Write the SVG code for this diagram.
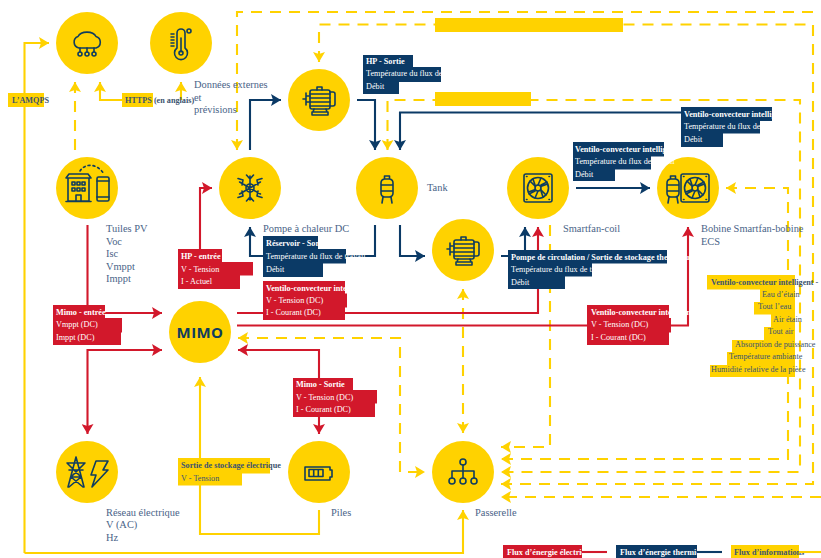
<svg xmlns="http://www.w3.org/2000/svg" width="821" height="558" viewBox="0 0 821 558">
<style>
text{font-family:"Liberation Serif","Times New Roman",serif}
.bg{fill:#fff}
.c{fill:#ffd200}
.ic{fill:none;stroke:#0f3d5e;stroke-width:1.6;stroke-linejoin:round;stroke-linecap:round}
.l{fill:none;stroke-width:2.100}
.r{stroke:#d2182b}.n{stroke:#0b3a66}.y{stroke:#ffd200}
.d{stroke-dasharray:11 8}
.nl{font-size:10.400px;fill:#4a6488}
.t{font-size:8.200px}
.b{font-weight:bold}
.w{fill:#fff}
.k{fill:#3b5470}
.br{fill:#d2182b}.bn{fill:#0b3a66}.by{fill:#ffd200}
</style>
<defs>
<marker id="ar" markerUnits="userSpaceOnUse" markerWidth="11" markerHeight="12" refX="10" refY="6" orient="auto-start-reverse"><path d="M0 0L10 6L0 12L2 6z" fill="#d2182b"/></marker>
<marker id="an" markerUnits="userSpaceOnUse" markerWidth="11" markerHeight="12" refX="10" refY="6" orient="auto-start-reverse"><path d="M0 0L10 6L0 12L2 6z" fill="#0b3a66"/></marker>
<marker id="ay" markerUnits="userSpaceOnUse" markerWidth="11" markerHeight="12" refX="10" refY="6" orient="auto-start-reverse"><path d="M0 0L10 6L0 12L2 6z" fill="#ffd200"/></marker>
<g id="motor" class="ic">
<path d="M-16 -1h3M-13 -7v12M-13 -4h4M-13 2h4"/>
<rect x="-9" y="-10" width="20" height="19" rx="2"/>
<path d="M-9 -6h20M-9 -2h20M-9 2h20M-9 6h20M11 -8h3a2 2 0 0 1 2 2v10a2 2 0 0 1 -2 2h-3M-2 -10v-3h5v3M-5 9l-1 3h14l-1 -3M-7 15h16v-3h-16z"/>
</g>
<g id="fan" class="ic">
<rect x="-14" y="-14" width="28" height="28" rx="2"/>
<circle r="10.500"/><circle r="3"/>
<path d="M0 -3L3 -10M2.600 -1.500L9.600 -4M2.600 1.500L8 7M0 3L-3 10M-2.600 1.500L-9.600 4M-2.600 -1.500L-8 -7M3 -3L9 -6M3 3L5 9M-3 3L-9 6M-3 -3L-5 -9"/>
<path d="M-11.500 -11.500h.5M11 -11.500h.5M-11.500 11.500h.5M11 11.500h.5"/>
</g>
<g id="tank" class="ic">
<path d="M-2.500 -12h5v3h-5zM-2.500 -9c-3 .5 -3.500 2 -3.500 4v10c0 2 .5 3.500 3.500 4h5c3 -.5 3.500 -2 3.500 -4v-10c0 -2 -.5 -3.500 -3.500 -4zM-6 -3h12M-6 3h12M-4 9l-1 6M4 9l1 6"/>
</g>
</defs>
<rect class="bg" width="821" height="558"/>
<g id="connectors">
<path class="l y d" d="M237 150V12H821" marker-start="url(#ay)"/>
<path class="l y d" d="M319 62V24.500H813V484H501" marker-start="url(#ay)" marker-end="url(#ay)"/>
<path class="l y d" d="M387.500 150V100H800V472H501" marker-start="url(#ay)" marker-end="url(#ay)"/>
<path class="l y d" d="M821 497H501" marker-end="url(#ay)"/>
<path class="l y d" d="M726 188H788V459H501" marker-start="url(#ay)" marker-end="url(#ay)"/>
<path class="l y d" d="M550 225V447H501" marker-end="url(#ay)"/>
<path class="l y d" d="M238 338H400V472H425" marker-start="url(#ay)" marker-end="url(#ay)"/>
<path class="l y d" d="M463 289V433" marker-start="url(#ay)" marker-end="url(#ay)"/>
<path class="l y d" d="M75 150V82" marker-end="url(#ay)"/>
<path class="l y" d="M122 100H100V82" marker-end="url(#ay)"/>
<path class="l y" d="M181 100V82" marker-end="url(#ay)"/>
<path class="l y" d="M24.500 553V43H49" marker-end="url(#ay)"/>
<path class="l y" d="M24.500 553H463V510" marker-end="url(#ay)"/>
<path class="l y" d="M319 510V534H200V377" marker-end="url(#ay)"/>
<path class="l r" d="M87.500 225V313H162" marker-end="url(#ar)"/>
<path class="l r" d="M162 350H87.500V434" marker-start="url(#ar)" marker-end="url(#ar)"/>
<path class="l r" d="M238 350H319V434" marker-start="url(#ar)" marker-end="url(#ar)"/>
<path class="l r" d="M200 250V188H212" marker-end="url(#ar)"/>
<path class="l r" d="M237 313H538V227" marker-end="url(#ar)"/>
<path class="l r" d="M237 325.500H688V227" marker-end="url(#ar)"/>
<path class="l n" d="M250 150V100H281" marker-end="url(#an)"/>
<path class="l n" d="M375 225V256H250V227" marker-end="url(#an)"/>
<path class="l n" d="M357 100H375V150" marker-end="url(#an)"/>
<path class="l n" d="M400 225V256H425" marker-end="url(#an)"/>
<path class="l n" d="M501 256H525V227" marker-end="url(#an)"/>
<path class="l n" d="M688 140V112.500H400V150" marker-end="url(#an)"/>
<path class="l n" d="M576 188H650" marker-end="url(#an)"/>
</g>
<g id="bars">
<rect class="by" x="435" y="18" width="188" height="14"/>
<rect class="by" x="435" y="92" width="96" height="14"/>
</g>
<g id="node-cloud"><circle class="c" cx="87" cy="43" r="31"/>
<g class="ic"><path d="M79 48A6 6 0 0 1 78 36.500A9.500 6.500 0 0 1 96 36.500A6 6 0 0 1 96 48Z"/><path d="M80 48v4M87 48v4M94 48v4"/><circle cx="80" cy="54" r="2"/><circle cx="87" cy="54" r="2"/><circle cx="94" cy="54" r="2"/></g></g>
<g id="node-thermometer"><circle class="c" cx="181" cy="43" r="31"/>
<g class="ic"><path d="M177 48V33a4 4 0 0 1 8 0V48a6.500 6.500 0 1 1 -8 0z"/><path d="M181 38V52"/><circle cx="181" cy="53" r="2"/><circle cx="189" cy="31" r="2"/><path d="M171 34h3M171 37h3M171 40h3M171 43h3M171 46h3"/></g></g>
<g id="node-building"><circle class="c" cx="87" cy="188" r="31"/>
<g class="ic"><path d="M66 178l3 -4h19l3 4zM68 178V201H89V178M66 201.500H91"/><path d="M72 182h3v3h-3zM77 182h3v3h-3zM82 182h3v3h-3zM72 188h3v3h-3zM77 188h3v3h-3zM82 188h3v3h-3zM76 201v-6h5v6"/><rect x="97" y="177" width="12" height="24" rx="1.500"/><path d="M97 181h12M97 197h12"/><path d="M80 171C85 163 97 163 104 174" stroke-dasharray="2 3"/></g></g>
<g id="node-heatpump"><circle class="c" cx="250" cy="188" r="31"/>
<g class="ic"><circle cx="250" cy="188" r="4"/><path d="M250 176V200M239.600 182L260.400 194M239.600 194L260.400 182M246.500 175l3.500 4 3.500 -4M246.500 201l3.500 -4 3.500 4M238 178.500l5 1.500 -1 5M262 197.500l-5 -1.500 1 -5M238 197.500l5 -1.500 -1 -5M262 178.500l-5 1.500 1 5"/></g>
<text class="nl" x="263" y="232">Pompe à chaleur DC</text></g>
<g id="node-motor1"><circle class="c" cx="319" cy="100" r="31"/><use href="#motor" x="319" y="100"/></g>
<g id="node-tank"><circle class="c" cx="387" cy="188" r="31"/><use href="#tank" x="387" y="188"/><text class="nl" x="427" y="191">Tank</text></g>
<g id="node-motor2"><circle class="c" cx="463" cy="250" r="31"/><use href="#motor" x="463" y="250"/></g>
<g id="node-smartfan"><circle class="c" cx="538" cy="188" r="31"/><use href="#fan" x="538" y="188"/><text class="nl" x="563" y="232">Smartfan-coil</text></g>
<g id="node-bobine"><circle class="c" cx="688" cy="188" r="31"/><use href="#tank" x="673" y="188"/><use href="#fan" x="695" y="188"/><text class="nl" x="701" y="232">Bobine Smartfan-bobine</text><text class="nl" x="701" y="245">ECS</text></g>
<g id="node-mimo"><circle class="c" cx="200" cy="332" r="31"/><text x="200" y="338" text-anchor="middle" style="font-family:'Open Sans',sans-serif;font-weight:700;font-size:15px;letter-spacing:.4px;fill:#0f3d5e">MIMO</text></g>
<g id="node-grid"><circle class="c" cx="87" cy="472" r="31"/>
<g class="ic"><path d="M76 457L68 487M76 457L84 487M67 463H85M69 470H83M71 477H81M67 463L81 477M85 463L71 477M69 487L81 477M83 487L71 477"/><path d="M96 461h12l-5 9h5l-16 17 4 -12h-5z"/></g></g>
<g id="node-battery"><circle class="c" cx="319" cy="472" r="31"/>
<g class="ic"><path d="M305 467h25v3h2v7h-2v3h-25z"/><path d="M309 469.500h14v7h-14zM313.700 469.500v7M318.300 469.500v7"/></g><text class="nl" x="331" y="516">Piles</text></g>
<g id="node-gateway"><circle class="c" cx="463" cy="472" r="31"/>
<g class="ic"><circle cx="463" cy="462" r="3"/><circle cx="452" cy="481" r="3"/><circle cx="463" cy="481" r="3"/><circle cx="474" cy="481" r="3"/><path d="M463 465V478M452 478V471H474V478"/></g><text class="nl" x="475" y="516">Passerelle</text></g>
<g id="label-external"><text class="nl" x="194" y="88">Données externes</text><text class="nl" x="194" y="101">et</text><text class="nl" x="194" y="113">prévisions</text></g>
<g id="label-pv"><text class="nl" x="106" y="232">Tuiles PV</text><text class="nl" x="106" y="245">Voc</text><text class="nl" x="106" y="257">Isc</text><text class="nl" x="106" y="270">Vmppt</text><text class="nl" x="106" y="282">Imppt</text></g>
<g id="label-grid"><text class="nl" x="106" y="516">Réseau électrique</text><text class="nl" x="106" y="528">V (AC)</text><text class="nl" x="106" y="541">Hz</text></g>
<g id="box-amqps"><rect class="by" x="8" y="93" width="36" height="14"/><text class="t b k" x="12" y="102.500">L’AMQPS</text></g>
<g id="box-https"><rect class="by" x="122" y="93" width="31" height="14"/><text class="t b k" x="125" y="102.500">HTTPS (en anglais)</text></g>
<g id="box-hp-out"><rect class="bn" x="363" y="55" width="50" height="12.500"/><rect class="bn" x="363" y="67" width="78" height="15"/><rect class="bn" x="363" y="81.500" width="36" height="12.500"/>
<text class="t b w" x="366" y="63.500">HP - Sortie</text><text class="t w" x="366" y="76">Température du flux de travail</text><text class="t w" x="366" y="88.500">Débit</text></g>
<g id="box-hp-in"><rect class="br" x="178" y="249" width="44" height="13.500"/><rect class="br" x="178" y="262" width="75" height="13.500"/><rect class="br" x="178" y="275" width="62" height="14"/>
<text class="t b w" x="181" y="259">HP - entrée</text><text class="t w" x="181" y="271.500">V - Tension</text><text class="t w" x="181" y="284">I - Actuel</text></g>
<g id="box-tank-out"><rect class="bn" x="263" y="236" width="55" height="13.500"/><rect class="bn" x="263" y="249" width="83" height="14.500"/><rect class="bn" x="263" y="263" width="60" height="14"/>
<text class="t b w" x="266" y="246">Réservoir - Sortie</text><text class="t w" x="266" y="259">Température du flux de travail</text><text class="t w" x="266" y="272">Débit</text></g>
<g id="box-fan-in"><rect class="br" x="263" y="281" width="82" height="13"/><rect class="br" x="263" y="293.500" width="84" height="14"/><rect class="br" x="263" y="307" width="82" height="13"/>
<text class="t b w" x="266" y="290.500">Ventilo-convecteur intelligent - entrée</text><text class="t w" x="266" y="302.500">V - Tension (DC)</text><text class="t w" x="266" y="315">I - Courant (DC)</text></g>
<g id="box-mimo-in"><rect class="br" x="53" y="305" width="52" height="13.500"/><rect class="br" x="53" y="318" width="69" height="14.500"/><rect class="br" x="53" y="332" width="68" height="13"/>
<text class="t b w" x="56" y="314.500">Mimo - entrée</text><text class="t w" x="56" y="327">Vmppt (DC)</text><text class="t w" x="56" y="340">Imppt (DC)</text></g>
<g id="box-mimo-out"><rect class="br" x="293" y="378" width="60" height="12.500"/><rect class="br" x="293" y="390" width="84" height="13.500"/><rect class="br" x="293" y="403" width="82" height="14"/>
<text class="t b w" x="296" y="387">Mimo - Sortie</text><text class="t w" x="296" y="399.500">V - Tension (DC)</text><text class="t w" x="296" y="412">I - Courant (DC)</text></g>
<g id="box-storage"><rect class="by" x="178" y="458" width="92" height="15.500"/><rect class="by" x="178" y="473" width="64" height="12.500"/>
<text class="t b k" x="181" y="468">Sortie de stockage électrique</text><text class="t k" x="181" y="480.500">V - Tension</text></g>
<g id="box-fan-in2"><rect class="br" x="587" y="305" width="82" height="13.500"/><rect class="br" x="587" y="318" width="84" height="14.500"/><rect class="br" x="587" y="332" width="82" height="13"/>
<text class="t b w" x="591" y="314.500">Ventilo-convecteur intelligent - entrée</text><text class="t w" x="591" y="327">V - Tension (DC)</text><text class="t w" x="591" y="340">I - Courant (DC)</text></g>
<g id="box-pump"><rect class="bn" x="508" y="250" width="159" height="13.500"/><rect class="bn" x="508" y="263" width="84" height="13.500"/><rect class="bn" x="508" y="276" width="57" height="13"/>
<text class="t b w" x="511" y="259.500">Pompe de circulation / Sortie de stockage thermique</text><text class="t w" x="511" y="272">Température du flux de travail</text><text class="t w" x="511" y="284.500">Débit</text></g>
<g id="box-fan-a"><rect class="bn" x="573" y="142" width="91" height="14.500"/><rect class="bn" x="573" y="156" width="78" height="13.500"/><rect class="bn" x="573" y="169" width="42" height="12"/>
<text class="t b w" x="575" y="151.500">Ventilo-convecteur intelligent</text><text class="t w" x="575" y="164">Température du flux de travail</text><text class="t w" x="575" y="176.500">Débit</text></g>
<g id="box-fan-b"><rect class="bn" x="681" y="107" width="91" height="14"/><rect class="bn" x="681" y="120.500" width="79" height="13"/><rect class="bn" x="681" y="133" width="42" height="14"/>
<text class="t b w" x="684" y="116.500">Ventilo-convecteur intelligent</text><text class="t w" x="684" y="129">Température du flux de travail</text><text class="t w" x="684" y="141.500">Débit</text></g>
<g id="box-fan-info">
<rect class="by" x="707" y="275" width="88" height="14.500"/><rect class="by" x="760" y="289" width="35" height="13.500"/><rect class="by" x="754" y="302" width="41" height="12.500"/><rect class="by" x="771" y="314" width="24" height="13.500"/><rect class="by" x="764" y="327" width="31" height="13.500"/><rect class="by" x="732" y="340" width="63" height="12.500"/><rect class="by" x="727" y="352" width="68" height="13.500"/><rect class="by" x="710" y="365" width="85" height="12"/>
<text class="t b k" x="711" y="284.500">Ventilo-convecteur intelligent -</text>
<text class="t k" x="762" y="296.500">Eau d’étain</text><text class="t k" x="758" y="309">Tout l’eau</text><text class="t k" x="773" y="321.500">Air étain</text><text class="t k" x="768" y="334">Tout air</text><text class="t k" x="735" y="346.500">Absorption de puissance</text><text class="t k" x="729" y="359">Température ambiante</text><text class="t k" x="711" y="372">Humidité relative de la pièce</text></g>
<g id="legend">
<rect class="br" x="503" y="545" width="79" height="13"/><rect class="bn" x="616" y="545" width="81" height="13"/><rect class="by" x="731" y="545" width="68" height="13"/>
<text class="t b w" x="507" y="554.500">Flux d’énergie électrique</text><text class="t b w" x="620" y="554.500">Flux d’énergie thermique</text><text class="t b k" x="734" y="554.500">Flux d’informations</text>
<path class="l r" d="M582 552H607"/><path class="l n" d="M697 552H722"/><path class="l y" d="M799 552H821"/></g>
</svg>
